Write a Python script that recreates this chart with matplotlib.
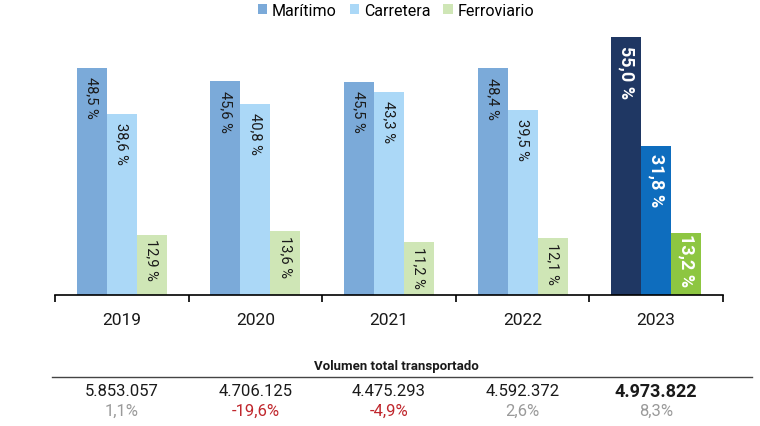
import matplotlib
matplotlib.use("Agg")
import matplotlib.pyplot as plt
import numpy as np

plt.rcParams['font.family'] = ['Roboto', 'DejaVu Sans']

years = ["2019", "2020", "2021", "2022", "2023"]
maritimo = [48.5, 45.6, 45.5, 48.4, 55.0]
carretera = [38.6, 40.8, 43.3, 39.5, 31.8]
ferroviario = [12.9, 13.6, 11.2, 12.1, 13.2]
volumen = ["5.853.057", "4.706.125", "4.475.293", "4.592.372", "4.973.822"]
variacion = ["1,1%", "-19,6%", "-4,9%", "2,6%", "8,3%"]
series_names = ["Marítimo", "Carretera", "Ferroviario"]

base_colors = ["#7BAAD9", "#ABD8F7", "#CFE6B6"]
hl_colors = ["#1F3763", "#0E6DBE", "#8DC641"]

W, H = 760, 427
fig = plt.figure(figsize=(W/100, H/100), dpi=100)
ax = fig.add_axes([55/W, 1-296/H, (723-55)/W, (296-25)/H])

x = np.arange(len(years))
bw = 0.225
series = [maritimo, carretera, ferroviario]
for j, vals in enumerate(series):
    for i, v in enumerate(vals):
        hl = (i == len(years)-1)
        c = hl_colors[j] if hl else base_colors[j]
        xpos = x[i] + (j-1)*bw
        ax.bar(xpos, v, width=bw, color=c, label=series_names[j] if i == 0 else None)
        lab = f"{v:.1f}".replace(".", ",") + " %"
        if j == 2:
            off = 0.0 if hl else 0.8
        else:
            off = 1.6 if hl else 1.8
        ax.text(xpos, v - off, lab, rotation=-90, ha='center', va='top',
                color='white' if hl else '#1a1a1a',
                fontsize=13 if hl else 10.5,
                fontweight='bold' if hl else 'normal')

ax.set_xlim(-0.5, len(years)-0.5)
ax.set_ylim(0, 57.8)
for s in ['top', 'right', 'left']:
    ax.spines[s].set_visible(False)
ax.spines['bottom'].set_linewidth(1.2)
ax.set_yticks([])
ax.set_xticks(np.arange(-0.5, len(years)), minor=False)
ax.set_xticklabels([])
ax.tick_params(axis='x', length=5, width=1.2, direction='out')
for i, y in enumerate(years):
    ax.text(x[i], -5.2, y, ha='center', va='center', fontsize=12.5, color='#1a1a1a')

handles, labels = ax.get_legend_handles_labels()
fig.legend(handles, labels, loc='center', bbox_to_anchor=(396/W, 1-11/H), ncol=3,
           frameon=False, fontsize=11.5, handlelength=0.6, handleheight=0.6,
           handletextpad=0.3, columnspacing=0.8)

# table
fig.text(396/W, 1-367/H, "Volumen total transportado", ha='center', va='center',
         fontsize=9.5, fontweight='bold', color='#1a1a1a')
fig.add_artist(plt.Line2D([52/W, 752/W], [1-378/H, 1-378/H], color='#444444', lw=1.0))
for i in range(len(years)):
    xf = (55 + (723-55)*(i+0.5)/len(years))/W
    hl = (i == len(years)-1)
    fig.text(xf, 1-392/H, volumen[i], ha='center', va='center',
             fontsize=13 if hl else 12, fontweight='bold' if hl else 'normal', color='#1a1a1a')
    neg = variacion[i].startswith('-')
    fig.text(xf, 1-411/H, variacion[i], ha='center', va='center', fontsize=12,
             color='#C0272D' if neg else '#9A9A9A')

fig.savefig("out.png", dpi=100)
